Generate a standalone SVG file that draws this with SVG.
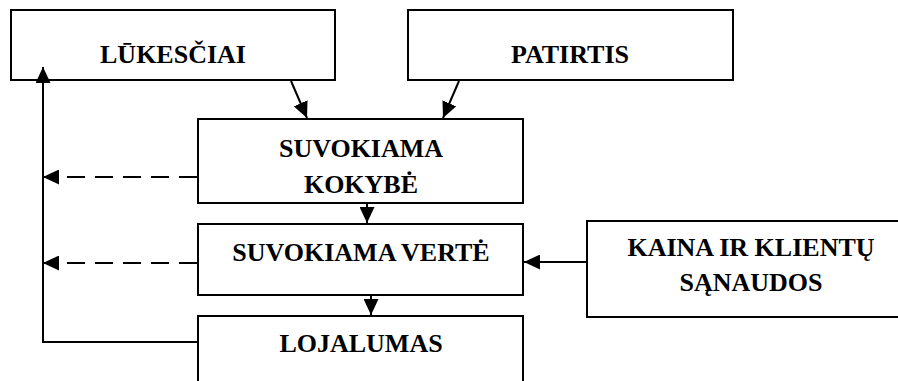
<svg xmlns="http://www.w3.org/2000/svg" width="898" height="381" viewBox="0 0 898 381">
<style>
.box{fill:#fff;stroke:#000;stroke-width:2}
.t{font-family:"Liberation Serif","Times New Roman",serif;font-weight:bold;font-size:26px;fill:#000;text-anchor:middle}
.ln{fill:none;stroke:#000;stroke-width:2}
.dash{stroke-dasharray:18 10}
</style>
<defs>
<marker id="ah" markerUnits="userSpaceOnUse" markerWidth="17" markerHeight="15" refX="16" refY="7.5" orient="auto">
<path d="M0,0 L16,7.5 L0,15 z" fill="#000"/>
</marker>
</defs>
<rect width="898" height="381" fill="#fff"/>
<g id="lukesciai">
<rect class="box" x="11" y="10" width="324" height="70"/>
<text class="t" x="173" y="63">LŪKESČIAI</text>
</g>
<g id="patirtis">
<rect class="box" x="408" y="10" width="325" height="70"/>
<text class="t" x="570" y="63">PATIRTIS</text>
</g>
<g id="kokybe">
<rect class="box" x="198" y="119" width="325" height="84"/>
<text class="t" x="361" y="157">SUVOKIAMA</text>
<text class="t" x="361" y="193">KOKYBĖ</text>
</g>
<g id="verte">
<rect class="box" x="198" y="224" width="325" height="71"/>
<text class="t" x="361" y="261">SUVOKIAMA VERTĖ</text>
</g>
<g id="lojalumas">
<rect class="box" x="198" y="316" width="325" height="90"/>
<text class="t" x="361" y="352">LOJALUMAS</text>
</g>
<g id="kaina">
<rect class="box" x="587" y="221" width="330" height="96"/>
<text class="t" x="751" y="256">KAINA IR KLIENTŲ</text>
<text class="t" x="751" y="291">SĄNAUDOS</text>
</g>
<g id="connectors">
<line class="ln" x1="291" y1="81" x2="307" y2="118" marker-end="url(#ah)"/>
<line class="ln" x1="459" y1="81" x2="443" y2="118" marker-end="url(#ah)"/>
<line class="ln dash" x1="197" y1="177" x2="43" y2="177" marker-end="url(#ah)"/>
<line class="ln dash" x1="197" y1="263" x2="43" y2="263" marker-end="url(#ah)"/>
<polyline class="ln" points="197,342 43,342 43,67" marker-end="url(#ah)"/>
<line class="ln" x1="367" y1="204" x2="367" y2="223" marker-end="url(#ah)"/>
<line class="ln" x1="371" y1="296" x2="371" y2="315" marker-end="url(#ah)"/>
<line class="ln" x1="586" y1="262" x2="524" y2="262" marker-end="url(#ah)"/>
</g>
</svg>
